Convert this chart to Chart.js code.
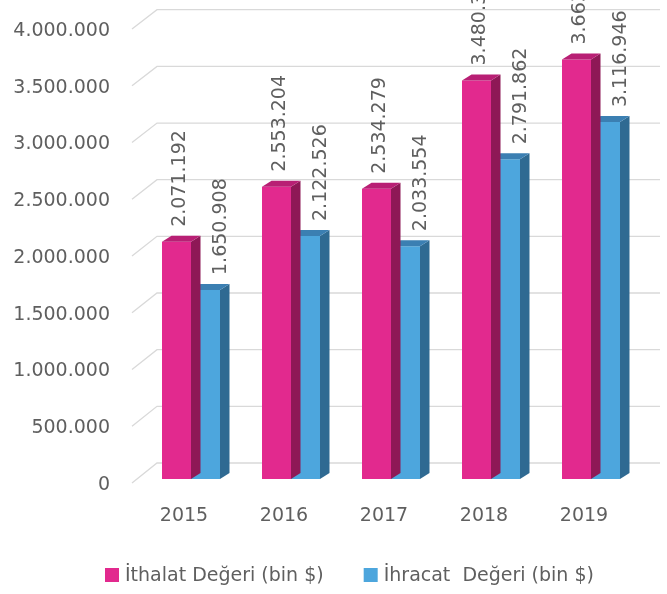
<!DOCTYPE html>
<html><head><meta charset="utf-8">
<script src="https://cdn.jsdelivr.net/npm/chart.js@4/dist/chart.umd.min.js"></script>
<style>html,body{margin:0;padding:0;background:#fff}</style>
</head><body>
<canvas id="c" width="667" height="594" style="display:block;width:667px;height:594px"></canvas>
<script>
// ---- data ----
const years = ['2015', '2016', '2017', '2018', '2019'];
const ithalat = [2071192, 2553204, 2534279, 3480350, 3663120];
const ihracat = [1650908, 2122526, 2033554, 2791862, 3116946];
const seriesNames = ['İthalat Değeri (bin $)', 'İhracat  Değeri (bin $)'];
const yMin = 0, yMax = 4000000, yStep = 500000;

// ---- styles ----
const FONT = '19px "DejaVu Sans"';
const TXT = '#5f5f5f';
const FRONT = ['#E2298E', '#4DA6DD'];
const TOP = ['#B81F74', '#3B7FB2'];
const SIDE = ['#8E1856', '#2F6A92'];
const DX = 9.5, DY = -6;
const LABEL_SHIFT = [3.5, 16];

function fmt(v) { return String(v).replace(/\B(?=(\d{3})+(?!\d))/g, '.'); }

const fake3d = {
  id: 'fake3d',
  beforeDatasetsDraw(chart) {
    const { ctx, chartArea: a, scales: { y } } = chart;
    ctx.save();
    ctx.strokeStyle = '#d9d9d9';
    ctx.lineWidth = 1.3;
    ctx.font = FONT;
    ctx.fillStyle = TXT;
    ctx.textAlign = 'right';
    ctx.textBaseline = 'middle';
    const xFront = a.left - 9, xBack = a.left + 16, xEnd = a.right + 19;
    y.ticks.forEach(t => {
      const py = y.getPixelForValue(t.value);
      const f = (a.bottom - py) / (a.bottom - a.top);
      const yf = py + 4 + f * 4;
      const yb = py - 16 + f * 4.7;
      ctx.beginPath();
      ctx.moveTo(xFront, yf);
      ctx.lineTo(xBack, yb);
      ctx.lineTo(xEnd, yb);
      ctx.stroke();
      ctx.fillText(fmt(t.value), a.left - 31, yf + 2);
    });
    ctx.restore();
  },
  afterDatasetDraw(chart, args) {
    const { ctx } = chart;
    const i = args.index;
    ctx.save();
    args.meta.data.forEach(bar => {
      const { x, y, base, width } = bar.getProps(['x', 'y', 'base', 'width'], true);
      const l = x - width / 2, r = x + width / 2;
      ctx.fillStyle = SIDE[i];
      ctx.beginPath();
      ctx.moveTo(r, y); ctx.lineTo(r + DX, y + DY); ctx.lineTo(r + DX, base + DY); ctx.lineTo(r, base);
      ctx.closePath(); ctx.fill();
      ctx.fillStyle = TOP[i];
      ctx.beginPath();
      ctx.moveTo(l, y); ctx.lineTo(r, y); ctx.lineTo(r + DX, y + DY); ctx.lineTo(l + DX, y + DY);
      ctx.closePath(); ctx.fill();
    });
    ctx.restore();
  },
  afterDatasetsDraw(chart) {
    const { ctx } = chart;
    ctx.save();
    ctx.font = FONT;
    ctx.fillStyle = TXT;
    chart.data.datasets.forEach((ds, i) => {
      chart.getDatasetMeta(i).data.forEach((bar, j) => {
        const { x, y } = bar.getProps(['x', 'y'], true);
        ctx.save();
        ctx.translate(x + LABEL_SHIFT[i], y - 15);
        ctx.rotate(-Math.PI / 2);
        ctx.textAlign = 'left';
        ctx.textBaseline = 'middle';
        ctx.fillText(fmt(ds.data[j]), 0, 0);
        ctx.restore();
      });
    });
    // legend
    let lx = 105;
    const ly = 575;
    ctx.textAlign = 'left';
    ctx.textBaseline = 'middle';
    chart.data.datasets.forEach((ds, i) => {
      ctx.fillStyle = FRONT[i];
      ctx.fillRect(lx, ly - 7, 14, 14);
      ctx.fillStyle = TXT;
      ctx.fillText(ds.label, lx + 20, ly + 1);
      lx += 20 + ctx.measureText(ds.label).width + 40;
    });
    ctx.restore();
  }
};

new Chart(document.getElementById('c'), {
  type: 'bar',
  data: {
    labels: years,
    datasets: [
      { label: seriesNames[0], data: ithalat, backgroundColor: FRONT[0], categoryPercentage: 0.58, barPercentage: 1 },
      { label: seriesNames[1], data: ihracat, backgroundColor: FRONT[1], categoryPercentage: 0.58, barPercentage: 1 }
    ]
  },
  options: {
    responsive: false,
    animation: false,
    layout: { padding: { top: 21, right: 26, bottom: 55, left: 0 } },
    plugins: { legend: { display: false }, tooltip: { enabled: false } },
    scales: {
      x: {
        grid: { display: false, drawTicks: false },
        border: { display: false },
        ticks: { font: { family: 'DejaVu Sans', size: 19 }, color: TXT, padding: 26, labelOffset: -7 },
        afterFit(s) { s.height = 60; }
      },
      y: {
        min: yMin, max: yMax,
        grid: { display: false, drawTicks: false },
        border: { display: false },
        ticks: { display: false, stepSize: yStep },
        afterFit(s) { s.width = 141; }
      }
    }
  },
  plugins: [fake3d]
});
</script>
</body></html>
